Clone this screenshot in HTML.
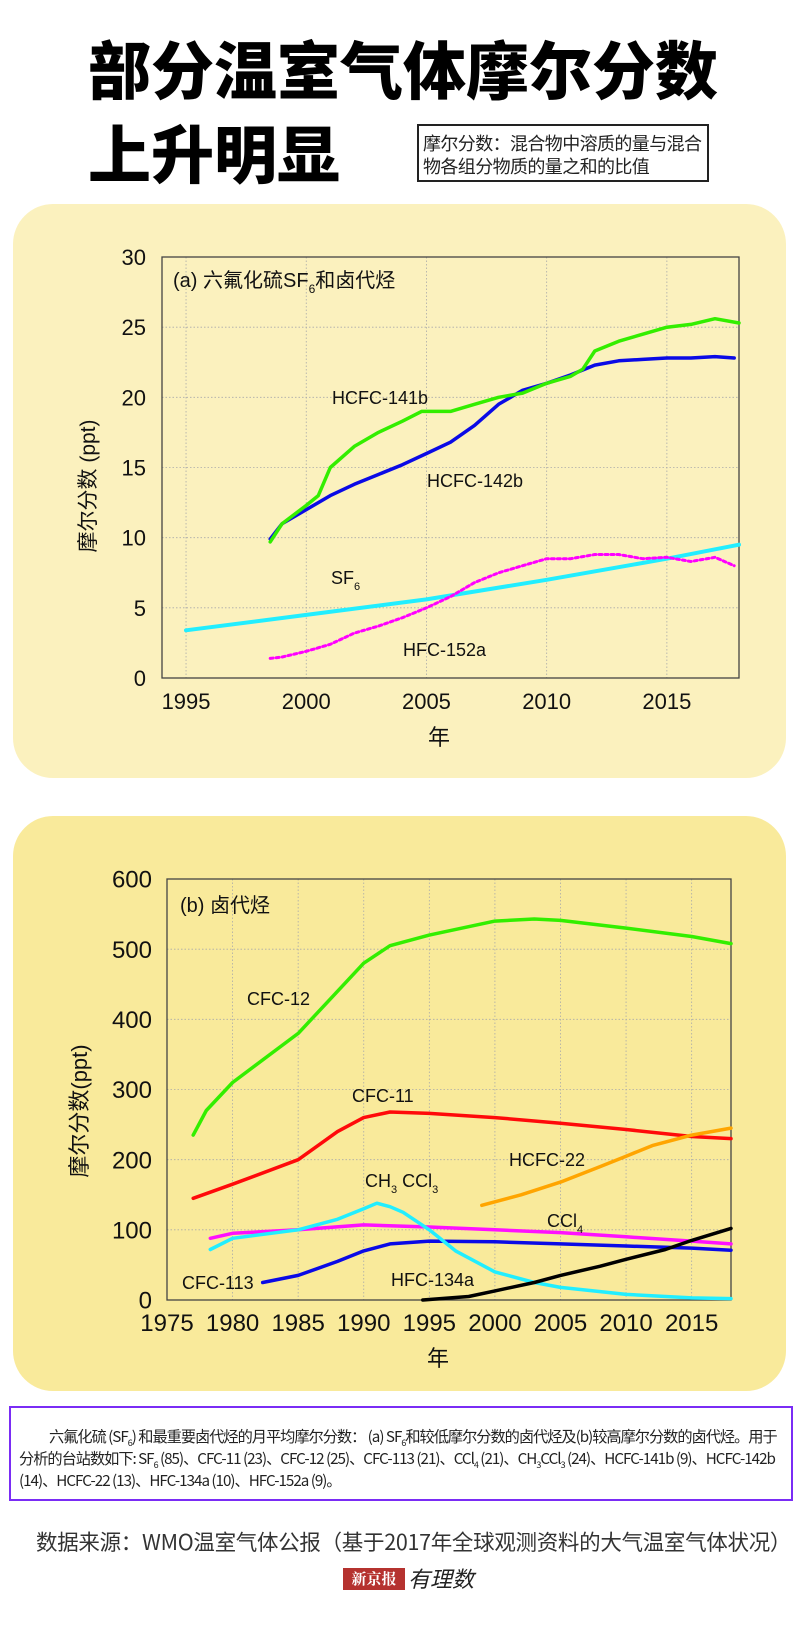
<!DOCTYPE html>
<html><head><meta charset="utf-8"><style>
body{margin:0;background:#fff;}
#page{position:relative;width:800px;height:1649px;overflow:hidden;background:#fff;font-family:"Liberation Sans","Noto Sans CJK SC",sans-serif;}
.abs{position:absolute;}
.t1{left:88px;font-weight:900;font-size:63px;line-height:63px;color:#000;letter-spacing:0px;font-family:"Noto Sans CJK SC",sans-serif;}
svg text{font-family:"Liberation Sans","Noto Sans CJK SC",sans-serif;}
.sb{font-size:9px;position:relative;top:4px;line-height:0;}
</style></head><body>
<div id="page">
<div class="abs t1" style="top:36px">部分温室气体摩尔分数</div>
<div class="abs t1" style="top:120px">上升明显</div>
<div class="abs" style="left:417px;top:124px;width:292px;height:58px;border:2px solid #222;font-size:18px;line-height:23px;padding:6px 0 0 4px;box-sizing:border-box;color:#222;font-family:'Noto Sans CJK SC',sans-serif;letter-spacing:-0.6px;">摩尔分数：混合物中溶质的量与混合物各组分物质的量之和的比值</div>
<div class="abs" style="left:13px;top:204px;width:773px;height:574px;border-radius:40px;background:#fbf1be;"></div>
<div class="abs" style="left:13px;top:816px;width:773px;height:575px;border-radius:40px;background:#f9ea9b;"></div>
<svg class="abs" style="left:0;top:0" width="800" height="1649" id="charts"></svg>
<div class="abs" style="left:9px;top:1406px;width:784px;height:95px;border:2px solid #7a2cf5;box-sizing:border-box;font-size:15.2px;line-height:22px;color:#222;padding:17px 0 0 8px;letter-spacing:-1px;font-family:'Noto Sans CJK SC',sans-serif;overflow:hidden;">
<div style="white-space:nowrap;padding-left:30px;height:22px">六氟化硫 (SF<span class="sb">6</span>) 和最重要卤代烃的月平均摩尔分数： (a) SF<span class="sb">6</span>和较低摩尔分数的卤代烃及(b)较高摩尔分数的卤代烃。用于</div>
<div style="white-space:nowrap;height:22px">分析的台站数如下: SF<span class="sb">6</span> (85)、CFC-11 (23)、CFC-12 (25)、CFC-113 (21)、CCl<span class="sb">4</span> (21)、CH<span class="sb">3</span>CCl<span class="sb">3</span> (24)、HCFC-141b (9)、HCFC-142b</div>
<div style="white-space:nowrap;height:22px">(14)、HCFC-22 (13)、HFC-134a (10)、HFC-152a (9)。</div>
</div>
<div class="abs" style="left:36px;top:1527px;font-size:21.5px;line-height:30px;color:#333;white-space:nowrap;font-family:'Noto Sans CJK SC',sans-serif;letter-spacing:-0.3px;">数据来源：WMO温室气体公报（基于2017年全球观测资料的大气温室气体状况）</div>
<div class="abs" style="left:343px;top:1568px;width:62px;height:22px;background:#b5322f;color:#fff;font-size:15px;line-height:22px;text-align:center;font-weight:bold;font-family:'Noto Serif CJK SC',serif;">新京报</div>
<div class="abs" style="left:408px;top:1562px;font-size:22px;font-style:italic;color:#222;font-family:'Noto Sans CJK SC',sans-serif;">有理数</div>
</div>
<script>
// ---- Panel A data ----
const aYears141b=[1998.5,1999,2000,2000.5,2001,2002,2003,2004,2004.8,2005,2006,2007,2008,2009,2010,2011,2011.5,2012,2013,2014,2015,2016,2017,2018];
const aVals141b=[9.7,11,12.3,13,15,16.5,17.5,18.3,19,19,19,19.5,20,20.3,21,21.5,22,23.3,24,24.5,25,25.2,25.6,25.3];
const aYears142b=[1998.5,1999,2000,2001,2002,2003,2004,2005,2006,2007,2008,2009,2010,2011,2012,2013,2014,2015,2016,2017,2017.8];
const aVals142b=[9.9,11,12,13,13.8,14.5,15.2,16,16.8,18,19.5,20.5,21,21.6,22.3,22.6,22.7,22.8,22.8,22.9,22.8];
const aYearsSF6=[1995,2000,2005,2010,2015,2018];
const aValsSF6=[3.4,4.5,5.6,7.0,8.5,9.5];
const aYears152a=[1998.5,1999,2000,2001,2002,2003,2004,2005,2006,2007,2008,2009,2010,2011,2012,2013,2014,2015,2016,2017,2017.8];
const aVals152a=[1.4,1.5,1.9,2.4,3.2,3.7,4.3,5.0,5.8,6.8,7.5,8.0,8.5,8.5,8.8,8.8,8.5,8.6,8.3,8.6,8.0];
const aXTicks=[1995,2000,2005,2010,2015];
const aYTicks=[0,5,10,15,20,25,30];
// ---- Panel B data ----
const bYearsCFC12=[1977,1978,1980,1985,1988,1990,1992,1995,2000,2003,2005,2010,2015,2018];
const bValsCFC12=[235,270,310,380,440,480,505,520,540,543,541,530,518,508];
const bYearsCFC11=[1977,1980,1985,1988,1990,1992,1995,2000,2005,2010,2015,2018];
const bValsCFC11=[145,165,200,240,260,268,266,260,252,243,233,230];
const bYearsHCFC22=[1999,2002,2005,2008,2010,2012,2015,2018];
const bValsHCFC22=[135,150,168,190,205,220,235,245];
const bYearsCH3CCl3=[1978.3,1980,1985,1988,1990,1991,1992,1993,1995,1997,2000,2003,2005,2010,2015,2018];
const bValsCH3CCl3=[72,88,100,115,130,138,133,125,100,70,40,25,18,8,3,2];
const bYearsCCl4=[1978.3,1980,1985,1990,1995,2000,2005,2010,2015,2018];
const bValsCCl4=[88,95,100,107,104,100,96,90,84,80];
const bYearsCFC113=[1982.3,1985,1988,1990,1992,1995,2000,2005,2010,2015,2018];
const bValsCFC113=[25,35,55,70,80,84,83,80,77,74,71];
const bYears134a=[1994.5,1998,2000,2003,2005,2008,2010,2013,2015,2018];
const bVals134a=[0,5,13,25,35,48,58,72,85,102];
const bXTicks=[1975,1980,1985,1990,1995,2000,2005,2010,2015];
const bYTicks=[0,100,200,300,400,500,600];

const NS='http://www.w3.org/2000/svg';
const svg=document.getElementById('charts');
function mk(tag,attrs,parent){const e=document.createElementNS(NS,tag);for(const k in attrs)e.setAttribute(k,attrs[k]);(parent||svg).appendChild(e);return e;}

function drawChart(cfg){
  const g=mk('g',{});
  
  
  const X=v=>cfg.x0+(v-cfg.xmin)/(cfg.xmax-cfg.xmin)*(cfg.x1-cfg.x0);
  const Y=v=>cfg.y1-(v-cfg.ymin)/(cfg.ymax-cfg.ymin)*(cfg.y1-cfg.y0);
  cfg.xt.forEach(t=>{
    const l=mk('line',{x1:X(t),x2:X(t),y1:cfg.y0,y2:cfg.y1,stroke:'#aaa','stroke-width':0.8,'stroke-dasharray':'1.5,2'},g);
    
    
    const tx=mk('text',{x:X(t),y:cfg.y1+cfg.xlabOff,'font-size':cfg.tickFs,'text-anchor':'middle',fill:'#111'},g);
    tx.textContent=t;
    
    
  });
  cfg.yt.forEach(t=>{
    const l=mk('line',{x1:cfg.x0,x2:cfg.x1,y1:Y(t),y2:Y(t),stroke:'#aaa','stroke-width':0.8,'stroke-dasharray':'1.5,2'},g);
    
    
    const tx=mk('text',{x:cfg.ylabX,y:Y(t)+cfg.tickFs*0.36,'font-size':cfg.tickFs,'text-anchor':'end',fill:'#111'},g);
    tx.textContent=t;
    
    
  });
  const r=mk('rect',{x:cfg.x0,y:cfg.y0,width:cfg.x1-cfg.x0,height:cfg.y1-cfg.y0,fill:'none',stroke:'#444','stroke-width':1.3},g);
  
  
  cfg.series.forEach(s=>{
    const pts=s.xs.map((x,i)=>X(x).toFixed(1)+','+Y(s.ys[i]).toFixed(1)).join(' ');
    const p=mk('polyline',{points:pts,fill:'none',stroke:s.color,'stroke-width':s.w||3.5,'stroke-linejoin':'round','stroke-linecap':'round'},g);
    if(s.dash)p.setAttribute('stroke-dasharray',s.dash);
    
    
  });
  return g;
}
function label(x,y,html,fs,name){
  const t=mk('text',{x:x,y:y,'font-size':fs,fill:'#111'});
  t.innerHTML=html;
  
  
  return t;
}
drawChart({name:'chart-a',x0:162,x1:739,y0:257,y1:678,xmin:1994,xmax:2018,ymin:0,ymax:30,xt:aXTicks,yt:aYTicks,tickFs:22,xlabOff:31,ylabX:146,
  series:[
    {name:'sf6-line',xs:aYearsSF6,ys:aValsSF6,color:'#22eeff',w:4},
    {name:'hfc152a-line',xs:aYears152a,ys:aVals152a,color:'#ff00ff',w:3,dash:'3,3'},
    {name:'hcfc142b-line',xs:aYears142b,ys:aVals142b,color:'#0a0ae6',w:3.5},
    {name:'hcfc141b-line',xs:aYears141b,ys:aVals141b,color:'#33ee00',w:3.5}
  ]});
drawChart({name:'chart-b',x0:167,x1:731,y0:879,y1:1300,xmin:1975,xmax:2018,ymin:0,ymax:600,xt:bXTicks,yt:bYTicks,tickFs:24,xlabOff:31,ylabX:152,
  series:[
    {name:'cfc12-line',xs:bYearsCFC12,ys:bValsCFC12,color:'#33ee00'},
    {name:'cfc11-line',xs:bYearsCFC11,ys:bValsCFC11,color:'#ff0a0a'},
    {name:'hcfc22-line',xs:bYearsHCFC22,ys:bValsHCFC22,color:'#ffa500'},
    {name:'ccl4-line',xs:bYearsCCl4,ys:bValsCCl4,color:'#ff10ff'},
    {name:'cfc113-line',xs:bYearsCFC113,ys:bValsCFC113,color:'#0a0ae6'},
    {name:'ch3ccl3-line',xs:bYearsCH3CCl3,ys:bValsCH3CCl3,color:'#22eeff'},
    {name:'hfc134a-line',xs:bYears134a,ys:bVals134a,color:'#000'}
  ]});
// panel a labels
label(173,287,'(a) 六氟化硫SF<tspan font-size="12" dy="6">6</tspan><tspan dy="-6">和卤代烃</tspan>',20,'chart-a-title');
label(332,404,'HCFC-141b',18,'label-hcfc141b');
label(427,487,'HCFC-142b',18,'label-hcfc142b');
label(331,584,'SF<tspan font-size="11" dy="6">6</tspan>',18,'label-sf6');
label(403,656,'HFC-152a',18,'label-hfc152a');
label(428,745,'年',22,'chart-a-x-title');
const ya=label(0,0,'摩尔分数 (ppt)',21,'chart-a-y-title');ya.setAttribute('transform','translate(95,486) rotate(-90)');ya.setAttribute('text-anchor','middle');
// panel b labels
label(180,912,'(b) 卤代烃',20,'chart-b-title');
label(247,1005,'CFC-12',18,'label-cfc12');
label(352,1102,'CFC-11',18,'label-cfc11');
label(509,1166,'HCFC-22',18,'label-hcfc22');
label(365,1187,'CH<tspan font-size="11" dy="6">3</tspan><tspan dy="-6"> CCl</tspan><tspan font-size="11" dy="6">3</tspan>',18,'label-ch3ccl3');
label(547,1227,'CCl<tspan font-size="11" dy="6">4</tspan>',18,'label-ccl4');
label(182,1289,'CFC-113',18,'label-cfc113');
label(391,1286,'HFC-134a',18,'label-hfc134a');
label(427,1366,'年',22,'chart-b-x-title');
const yb=label(0,0,'摩尔分数(ppt)',22,'chart-b-y-title');yb.setAttribute('transform','translate(87,1111) rotate(-90)');yb.setAttribute('text-anchor','middle');
</script>
</body></html>
